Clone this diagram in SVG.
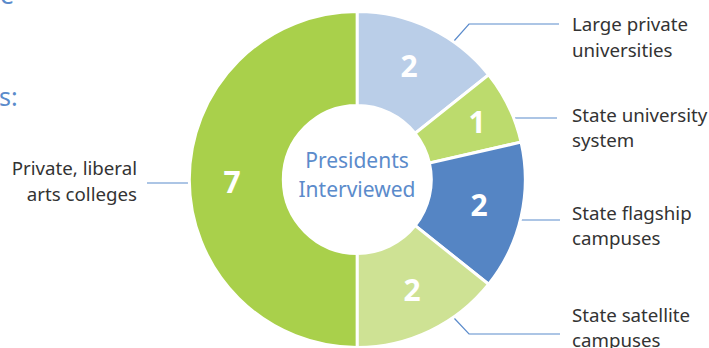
<svg xmlns="http://www.w3.org/2000/svg" width="709" height="348" viewBox="0 0 709 348">
<style>
.seg{stroke:#fff;stroke-width:3;stroke-linejoin:miter}
.num{font-family:"Noto Sans","Liberation Sans",sans-serif;font-size:30px;font-weight:bold;fill:#fff;text-anchor:middle}
.lbl{font-family:"Noto Sans","Liberation Sans",sans-serif;font-size:18.7px;fill:#333}
.ctr{font-family:"Noto Sans","Liberation Sans",sans-serif;font-size:21px;fill:#5B8BCB;text-anchor:middle}
.ttl{font-family:"Noto Sans","Liberation Sans",sans-serif;font-size:25px;fill:#5B8BCB}
.lead{fill:none;stroke:#5B8BCB;stroke-width:1.2}
</style>
<rect width="709" height="348" fill="#fff"/>
<text class="ttl" x="0" y="4">e</text>
<text class="ttl" x="-1" y="106">s:</text>
<g id="connectors">
<polyline class="lead" points="454,41 469,24 559,24"/>
<line class="lead" x1="514" y1="118" x2="557" y2="118"/>
<line class="lead" x1="520" y1="220" x2="560" y2="220"/>
<polyline class="lead" points="454,318 469,334 560,334"/>
<line class="lead" x1="147" y1="183" x2="190" y2="183"/>
</g>
<g id="private-liberal-arts">
<path class="seg" fill="#A9D04B" d="M357.3,347.5 A168,168 0 0 1 357.3,11.5 L357.3,105.5 A74,74 0 0 0 357.3,253.5 Z"/>
<text class="num" x="232" y="193">7</text>
<text class="lbl" text-anchor="end" x="137" y="175">Private, liberal</text>
<text class="lbl" text-anchor="end" x="137" y="201">arts colleges</text>
</g>
<g id="large-private">
<path class="seg" fill="#BACEE8" d="M357.3,11.5 A168,168 0 0 1 488.65,74.75 L415.16,133.36 A74,74 0 0 0 357.3,105.5 Z"/>
<text class="num" x="409" y="77">2</text>
<text class="lbl" x="572" y="31">Large private</text>
<text class="lbl" x="572" y="57">universities</text>
</g>
<g id="state-university-system">
<path class="seg" fill="#BCDB6D" d="M488.65,74.75 A168,168 0 0 1 521.09,142.12 L429.44,163.03 A74,74 0 0 0 415.16,133.36 Z"/>
<text class="num" x="477" y="133">1</text>
<text class="lbl" x="572" y="122">State university</text>
<text class="lbl" x="572" y="147">system</text>
</g>
<g id="state-flagship">
<path class="seg" fill="#5585C4" d="M521.09,142.12 A168,168 0 0 1 488.65,284.25 L415.16,225.64 A74,74 0 0 0 429.44,163.03 Z"/>
<text class="num" x="479" y="216">2</text>
<text class="lbl" x="572" y="220">State flagship</text>
<text class="lbl" x="572" y="245">campuses</text>
</g>
<g id="state-satellite">
<path class="seg" fill="#CEE294" d="M488.65,284.25 A168,168 0 0 1 357.3,347.5 L357.3,253.5 A74,74 0 0 0 415.16,225.64 Z"/>
<text class="num" x="412" y="301">2</text>
<text class="lbl" x="572" y="322">State satellite</text>
<text class="lbl" x="572" y="347">campuses</text>
</g>
<g id="center">
<circle cx="357.3" cy="180" r="73" fill="#fff"/>
<text class="ctr" x="357" y="168">Presidents</text>
<text class="ctr" x="357" y="197">Interviewed</text>
</g>
</svg>
